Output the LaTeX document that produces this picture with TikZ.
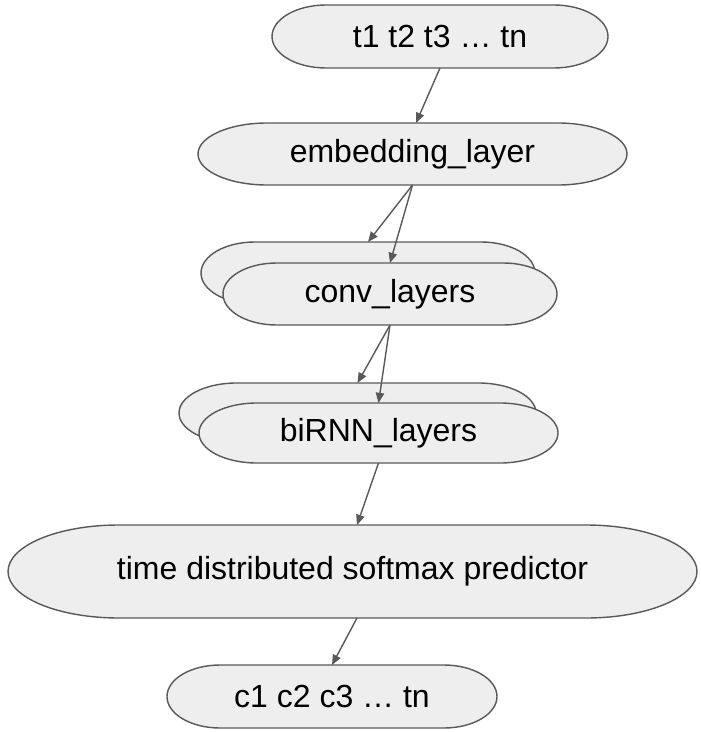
\documentclass[tikz,border=0pt]{standalone}
\usepackage{fontspec}
\setmainfont{Liberation Sans}
\usetikzlibrary{arrows.meta,positioning,calc,backgrounds}
\definecolor{pillfill}{RGB}{238,238,238}
\definecolor{pillline}{RGB}{89,89,89}
\newcommand{\layerfont}{\fontsize{18.2}{22}\selectfont}

% terminator outline round a named node, ends are half ellipses
\newcommand{\drawpill}[1]{%
  \path[pill] let \p1=(#1.south west), \p2=(#1.north east),
    \n1={0.1609*(\x2-\x1)}, \n2={(\y2-\y1)/2} in
    (\x1+\n1,\y2) -- (\x2-\n1,\y2)
    arc[start angle=90, end angle=-90, x radius=\n1, y radius=\n2]
    -- (\x1+\n1,\y1)
    arc[start angle=270, end angle=90, x radius=\n1, y radius=\n2] -- cycle;}

\begin{document}
\begin{tikzpicture}[
    layer/.style={rectangle, inner sep=0pt, outer sep=0pt, minimum height=1.24cm, align=center, font=\layerfont},
    pill/.style={fill=pillfill, draw=pillline, line width=0.8pt},
    flow/.style={-{Triangle[length=5.8pt,width=4.8pt]}, draw=pillline, line width=0.8pt}
]
\useasboundingbox (0,0) rectangle (14,-14.64);

% Input
\node[layer, minimum width=6.72cm, minimum height=1.26cm] (inp) at (8.8,-0.73) {t1 t2 t3 … tn};

% Embedding
\node[layer, minimum width=8.58cm] (emb) at (8.25,-3.08) {embedding\_layer};

% Conv stack
\node[layer, minimum width=6.68cm] (conv) at (7.8,-5.88) {conv\_layers};
\node[layer, minimum width=6.68cm] (convback) at ($(conv)+(-0.44,0.42)$) {};

% RNN stack
\node[layer, minimum width=7.18cm, minimum height=1.2cm] (rnn) at (7.57,-8.66) {biRNN\_layers};
\node[layer, minimum width=7.14cm, minimum height=1.2cm] (rnnback) at ($(rnn)+(-0.42,0.4)$) {};

% Predictor
\node[layer, minimum width=13.78cm, minimum height=1.86cm] (soft) at (7.05,-11.43) {time distributed softmax predictor};

% Output
\node[layer, minimum width=6.6cm, minimum height=1.26cm] (out) at (6.64,-13.93) {c1 c2 c3 … tn};

% Outlines
\begin{pgfonlayer}{background}
\foreach \lay in {inp,emb,convback,conv,rnnback,rnn,soft,out}
  \drawpill{\lay};
\end{pgfonlayer}

% Arrows
\draw[flow] (inp.south) -- ([xshift=0.07cm]emb.north);
\draw[flow] (emb.south) -- (convback.north);
\draw[flow] (emb.south) -- (conv.north);
\draw[flow] (conv.south) -- (rnnback.north);
\draw[flow] (conv.south) -- (rnn.north);
\draw[flow] (rnn.south) -- ([xshift=0.09cm]soft.north);
\draw[flow] ([xshift=0.09cm]soft.south) -- (out.north);

\end{tikzpicture}
\end{document}
